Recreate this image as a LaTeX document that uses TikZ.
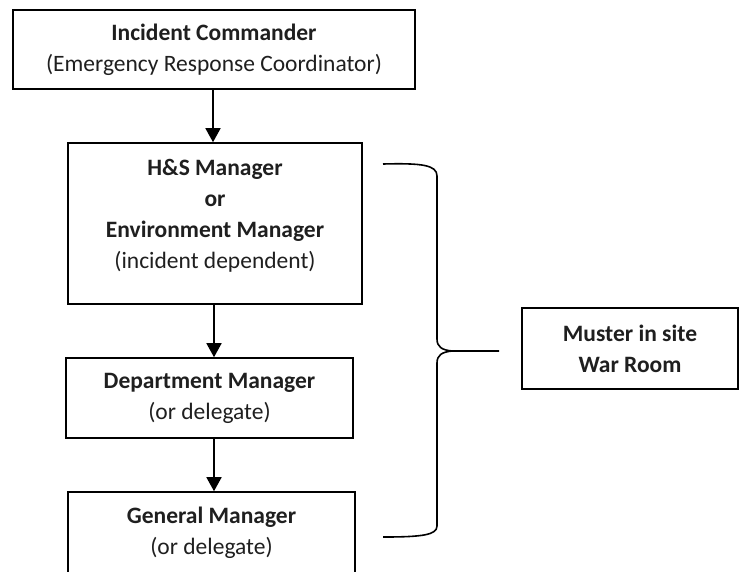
\documentclass[tikz,border=0pt]{standalone}
\usepackage{fontspec}
\setmainfont{Carlito}
\usetikzlibrary{arrows.meta}

\tikzset{
  box/.style={draw=black, line width=1.6pt, rectangle, inner sep=0pt, align=center,
              font=\fontsize{23.5}{31}\selectfont, text=black!88},
  txt/.style={inner sep=0pt, align=center, font=\fontsize{23.5}{31}\selectfont, text=black!88},
  flow/.style={line width=1.6pt, -{Triangle[length=14pt, width=15pt]}},
  brace/.style={line width=1.6pt, line join=round}
}

\begin{document}
\begin{tikzpicture}[x=1pt, y=-1pt]
  \useasboundingbox (0,0) rectangle (743,571);
  \clip (0,0) rectangle (743,571);
  \fill[white] (0,0) rectangle (743,571);

  % chain of command
  \node[box, minimum width=402pt, minimum height=79pt] (ic) at (214,49.5)
    {\textbf{Incident Commander}\\(Emergency Response Coordinator)};

  \node[box, minimum width=294pt, minimum height=161pt] (hs) at (215,223.5) {};
  \node[txt] (hsText) at (215,216)
    {\textbf{H\&S Manager}\\\textbf{or}\\\textbf{Environment Manager}\\(incident dependent)};

  \node[box, minimum width=287pt, minimum height=80pt] (dm) at (209.5,398)
    {\textbf{Department Manager}\\(or delegate)};

  \node[box, minimum width=287pt, minimum height=96pt] (gm) at (211.5,540) {};
  \node[txt] (gmText) at (211.5,533)
    {\textbf{General Manager}\\(or delegate)};

  \node[box, minimum width=216pt, minimum height=81pt] (muster) at (630,348.5)
    {\textbf{Muster in site}\\\textbf{War Room}};

  % arrows between the levels
  \draw[flow] (ic.south -| 213,0) -- (213,0 |- hs.north);
  \draw[flow] (hs.south -| 214,0) -- (214,0 |- dm.north);
  \draw[flow] (dm.south -| 214,0) -- (214,0 |- gm.north);

  % curly brace grouping the managers
  \coordinate (tip) at (499,351);
  \draw[brace] (383,164) .. controls (422,163) and (437,165) .. (437,176)
    -- (437,339) .. controls (437,347) and (442,350) .. (452,351) -- (tip);
  \draw[brace] (452,351) .. controls (442,352) and (437,355) .. (437,363)
    -- (437,526) .. controls (437,535) and (422,537) .. (383,537);
\end{tikzpicture}
\end{document}
